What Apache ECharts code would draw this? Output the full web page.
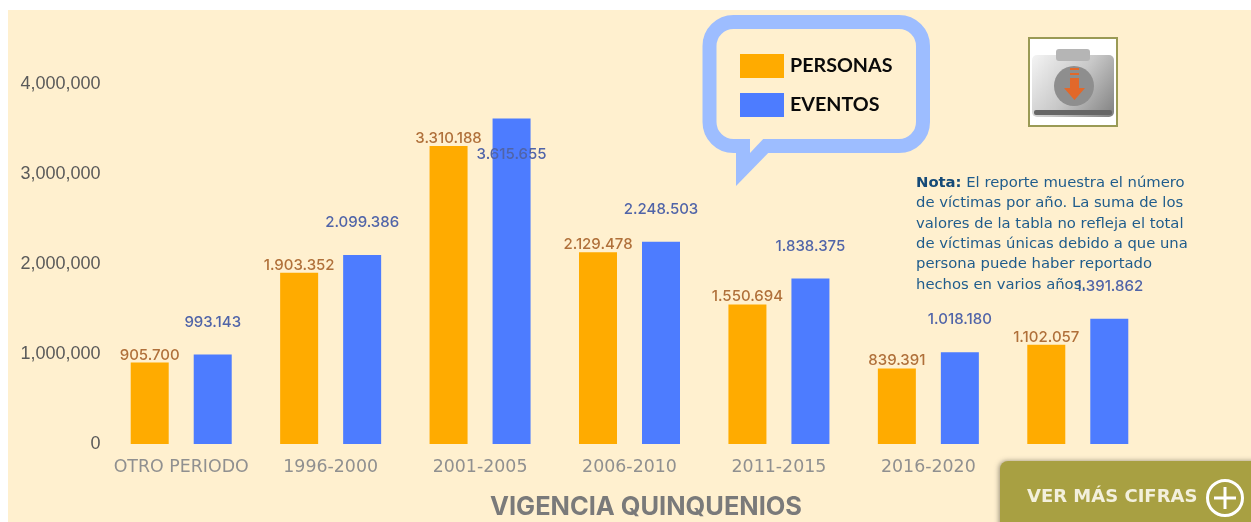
<!DOCTYPE html>
<html><head><meta charset="utf-8">
<style>html,body{margin:0;padding:0;background:#fff}#c{width:1251px;height:522px}</style>
<script src="https://cdn.jsdelivr.net/npm/echarts@6/dist/echarts.min.js"></script>
</head><body><div id="c"></div>
<script>
const categories = ['OTRO PERIODO','1996-2000','2001-2005','2006-2010','2011-2015','2016-2020',''];
const personas = [905700,1903352,3310188,2129478,1550694,839391,1102057];
const eventos = [993143,2099386,3615655,2248503,1838375,1018180,1391862];
const noteLines = ['{b|Nota:} El reporte muestra el número','de víctimas por año. La suma de los','valores de la tabla no refleja el total','de víctimas únicas debido a que una','persona puede haber reportado','hechos en varios años.'];
const dots = v => String(v.value ?? v).replace(/\B(?=(\d{3})+$)/g,'.');
const BG='#fff0cf', FONT='Inter', WIDE='DejaVu Sans', NOTE='#1f5c8c';
const peak=Math.max(...eventos);
const chart=echarts.init(document.getElementById('c'),null,{renderer:'canvas'});
chart.setOption({
  animation:false,
  grid:{left:106.5,right:98.5,top:84,bottom:78},
  title:{text:'VIGENCIA QUINQUENIOS',left:641,top:490,textAlign:'center',
    textStyle:{fontFamily:FONT,fontWeight:700,fontSize:25.4,color:'#7a7a7a'}},
  legend:{orient:'vertical',left:735,top:49,itemWidth:44,itemHeight:24,itemGap:15,
    icon:'rect',textStyle:{fontFamily:'Lato',fontWeight:700,fontSize:19.7,color:'#0a0a0a',padding:[0,0,0,1]}},
  xAxis:{type:'category',data:categories,axisLine:{show:false},axisTick:{show:false},
    axisLabel:{interval:0,margin:15,fontFamily:WIDE,fontSize:17.4,color:'#909090'}},
  yAxis:{type:'value',min:0,max:4000000,interval:1000000,axisLine:{show:false},axisTick:{show:false},
    splitLine:{show:false},axisLabel:{margin:6,fontFamily:'Liberation Sans',fontSize:18,color:'#5a5a5a'}},
  series:[
    {name:'PERSONAS',type:'bar',data:personas,barWidth:38,barGap:'65.8%',
     itemStyle:{color:'#ffab00'},
     label:{show:true,position:'top',distance:0,formatter:p=>dots(p.value),fontFamily:FONT,fontWeight:500,fontSize:15,color:'#b0703a'}},
    {name:'EVENTOS',type:'bar',barWidth:38,
     data:eventos.map(v=>v===peak?{value:v,label:{offset:[0,68]}}:v),
     itemStyle:{color:'#4d7cff'},
     label:{show:true,position:'top',distance:25,formatter:p=>dots(p.value),fontFamily:FONT,fontWeight:500,fontSize:15,color:'#5064a8'}}
  ],
  graphic:[
    {type:'rect',z:-10,silent:true,shape:{x:8,y:10,width:1243,height:512},style:{fill:BG}},
    {type:'polygon',z:1,shape:{points:[[736,146],[736,186],[775,146]]},style:{fill:'#9dbdff'}},
    {type:'rect',z:1,shape:{x:709.5,y:22,width:213.5,height:124,r:24},style:{fill:BG,stroke:'#9dbdff',lineWidth:14}},
    {type:'polygon',z:1,shape:{points:[[750,136],[750,153],[766,136]]},style:{fill:BG}},
    {type:'rect',z:1,shape:{x:1029,y:38,width:88,height:88},style:{fill:'#fff',stroke:'#9a9a55',lineWidth:2}},
    {type:'rect',z:1,shape:{x:1032,y:55,width:82,height:62,r:5},style:{fill:new echarts.graphic.LinearGradient(0,0,1,1,[{offset:0,color:'#f4f4f4'},{offset:.5,color:'#c8c8c8'},{offset:1,color:'#808080'}])}},
    {type:'rect',z:1,shape:{x:1056,y:49,width:34,height:12,r:3},style:{fill:'#b5b5b5'}},
    {type:'rect',z:1,shape:{x:1034,y:110,width:78,height:5,r:2},style:{fill:'#666'}},
    {type:'circle',z:1,shape:{cx:1074,cy:86,r:20},style:{fill:'#8e8e8e'}},
    {type:'polygon',z:1,shape:{points:[[1070,78],[1079,78],[1079,88],[1085,88],[1074.5,100],[1064,88],[1070,88]]},style:{fill:'#e2682a'}},
    {type:'rect',z:1,shape:{x:1070,y:68,width:9,height:2},style:{fill:'#e2682a'}},
    {type:'rect',z:1,shape:{x:1070,y:73,width:9,height:2},style:{fill:'#e2682a'}},
    {type:'text',z:5,left:916,top:173,style:{text:noteLines.join('\n'),
      rich:{b:{fontFamily:WIDE,fontWeight:700,fontSize:14.8,fill:'#154a78',lineHeight:20.3}},
      fontFamily:WIDE,fontSize:14.8,lineHeight:20.3,fill:NOTE}},
    {type:'rect',z:100,shape:{x:1000,y:461,width:270,height:80,r:8},
      style:{fill:'#a8a042',shadowBlur:5,shadowColor:'rgba(0,0,0,.4)',shadowOffsetX:-1}},
    {type:'text',z:101,left:1027,top:488,style:{text:'VER MÁS CIFRAS',fontFamily:WIDE,fontWeight:700,fontSize:18,fill:'#f3f0dc'}},
    {type:'circle',z:101,shape:{cx:1225,cy:498,r:17.5},style:{fill:'transparent',stroke:'#fff',lineWidth:3}},
    {type:'rect',z:101,shape:{x:1214,y:496.5,width:22,height:3},style:{fill:'#fff'}},
    {type:'rect',z:101,shape:{x:1223.5,y:487,width:3,height:22},style:{fill:'#fff'}}
  ]
});
</script></body></html>
